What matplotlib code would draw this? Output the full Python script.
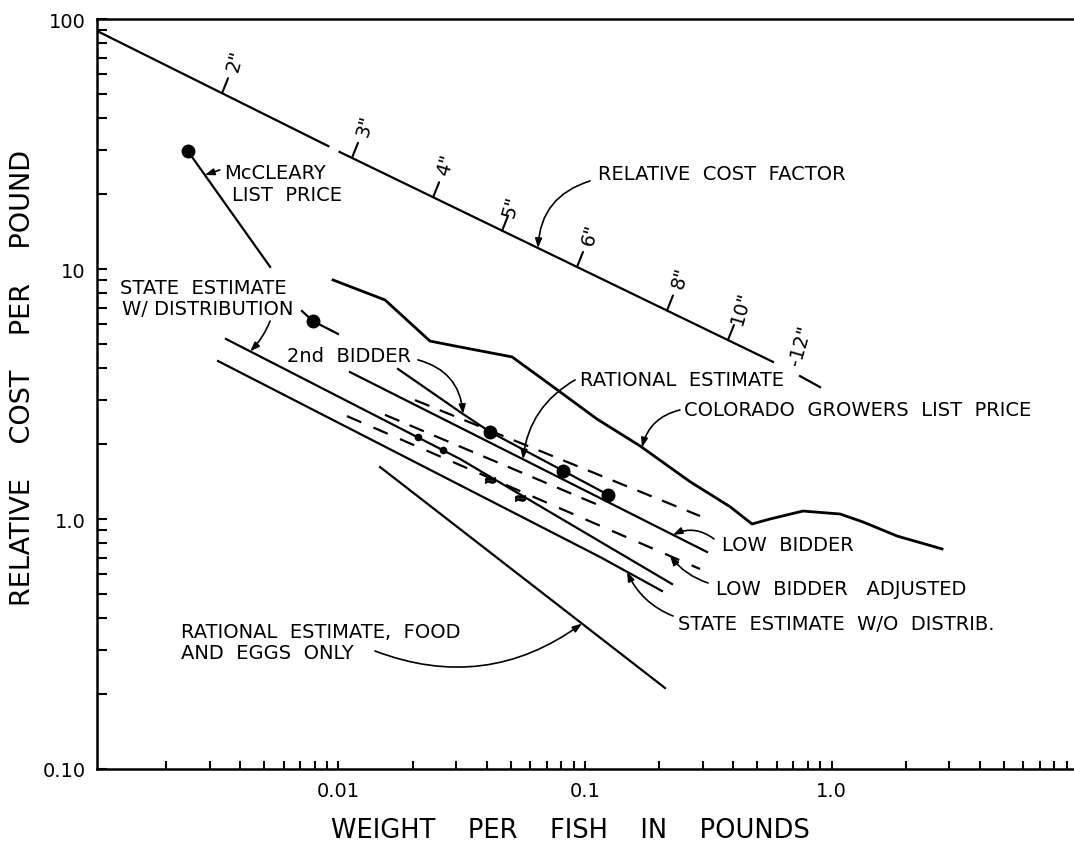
import numpy as np
import matplotlib
matplotlib.use("Agg")
import matplotlib.pyplot as plt
from matplotlib.ticker import FixedLocator, LogLocator, NullFormatter

nan = np.nan

# relative cost factor (fish length scale), gaps where the line is broken
rcf_x = [0.00105, 0.0091, nan, 0.0101, 0.579, nan, 0.745, 0.898]
rcf_y = [89.5, 31.0, nan, 29.4, 4.25, nan, 3.73, 3.37]
length_labels = ['2"', '3"', '4"', '5"', '6"', '8"', '10"', '-12"']
length_x = [0.00337, 0.01134, 0.0242, 0.0461, 0.0928, 0.215, 0.380, 0.679]

# McCleary list price
mc_x = [0.00245, 0.00528, nan, 0.00711, 0.00788, 0.00995, nan, 0.01744, 0.0320, 0.0412, 0.0814, 0.124]
mc_y = [29.6, 10.2, nan, 6.79, 6.19, 5.50, nan, 3.98, 2.63, 2.23, 1.56, 1.25]
mc_dot_x = [0.00245, 0.00788, 0.0412, 0.0814, 0.124]
mc_dot_y = [29.6, 6.19, 2.23, 1.56, 1.25]

# Colorado growers list price
co_x = [0.0095, 0.01544, 0.0235, 0.0297, 0.0506, 0.0688, 0.1119, 0.1672, 0.2667,
        0.3876, 0.4759, 0.5628, 0.7664, 1.083, 1.342, 1.844, 2.808]
co_y = [9.04, 7.52, 5.15, 4.92, 4.45, 3.57, 2.51, 1.96, 1.41,
        1.12, 0.955, 1.0, 1.076, 1.047, 0.973, 0.855, 0.759]

# bidders / estimates
low_x = [0.01113, 0.3126]
low_y = [3.87, 0.738]
rat_x = [0.02043, 0.2927]
rat_y = [2.99, 1.028]
bid2_adj_x = [0.01544, 0.1183]
bid2_adj_y = [2.61, 1.117]
low_adj_x = [0.01082, 0.2927]
low_adj_y = [2.58, 0.631]
st_w_x = [0.003496, 0.03112, 0.2254]
st_w_y = [5.25, 1.738, 0.5495]
st_w_dot_x = [0.02101, 0.02654]
st_w_box_x = [0.04117, 0.05448]
st_wo_x = [0.003245, 0.1151, 0.2053]
st_wo_y = [4.285, 0.7047, 0.5152]
food_x = [0.01474, 0.2111]
food_y = [1.614, 0.2109]


def on_line(xs, ys, x):
    xs = np.asarray(xs, float)
    ys = np.asarray(ys, float)
    ok = ~np.isnan(xs)
    lx = np.log10(xs[ok])
    ly = np.log10(ys[ok])
    return 10 ** np.interp(np.log10(x), lx, ly)


plt.rcParams['font.family'] = 'DejaVu Sans'
fig = plt.figure(figsize=(10.74, 8.54), dpi=100)
ax = fig.add_axes([97 / 1074, 84 / 854, 977 / 1074, 750 / 854])
ax.set_xscale('log')
ax.set_yscale('log')
ax.set_xlim(0.001048, 9.63)
ax.set_ylim(0.1, 100)

k = 'black'
ax.plot(rcf_x, rcf_y, color=k, lw=1.6)
ax.plot(mc_x, mc_y, color=k, lw=1.6)
ax.plot(mc_dot_x, mc_dot_y, 'o', color=k, ms=9)
ax.plot(co_x, co_y, color=k, lw=2.0)
ax.plot(low_x, low_y, color=k, lw=1.6)
ax.plot(rat_x, rat_y, color=k, lw=1.6, dashes=(7, 5))
ax.plot(bid2_adj_x, bid2_adj_y, color=k, lw=1.6, dashes=(7, 5))
ax.plot(low_adj_x, low_adj_y, color=k, lw=1.6, dashes=(7, 6))
ax.plot(st_w_x, st_w_y, color=k, lw=1.6)
ax.plot(st_w_dot_x, on_line(st_w_x, st_w_y, st_w_dot_x), 'o', color=k, ms=4.5)
ax.plot(st_w_box_x, on_line(st_w_x, st_w_y, st_w_box_x) * 0.97, marker=r'$\approx$',
        ls='none', color=k, ms=7)
ax.plot(st_wo_x, st_wo_y, color=k, lw=1.6)
ax.plot(food_x, food_y, color=k, lw=1.6)

# length ticks along the cost factor line
fs = 14
for lab, x in zip(length_labels, length_x):
    y = on_line(rcf_x, rcf_y, x)
    if not lab.startswith('-'):
        ax.annotate('', xy=(x, y), xytext=(6, 15), textcoords='offset pixels',
                    arrowprops=dict(arrowstyle='-', lw=1.5, color=k,
                                    shrinkA=0, shrinkB=0))
        off = (13, 33) if lab != '5"' else (9, 25)
    else:
        off = (10, 26)
    ax.annotate(lab, xy=(x, y), xytext=off, textcoords='offset pixels',
                rotation=74, ha='center', va='center', fontsize=fs)


def label(text, tx, ty, ax_=ax, **kw):
    ax_.text(tx, ty, text, fontsize=fs, ha=kw.pop('ha', 'left'),
             va=kw.pop('va', 'center'), linespacing=1.15, **kw)


def pointer(sx, sy, ex, ey, rad):
    ax.annotate('', xy=(ex, ey), xytext=(sx, sy),
                arrowprops=dict(arrowstyle='-|>,head_length=0.55,head_width=0.2',
                                lw=1.2, color=k, shrinkA=0, shrinkB=0,
                                connectionstyle=f'arc3,rad={rad}'))


label('RELATIVE  COST  FACTOR', 0.1129, 24.0)
pointer(0.1048, 22.5, 0.0645, on_line(rcf_x, rcf_y, 0.0645), 0.35)

label('McCLEARY', 0.00343, 24.4)
label('LIST  PRICE', 0.0037, 19.8)
pointer(0.0033, 24.9, 0.00287, on_line(mc_x[:2], mc_y[:2], 0.00287), 0.0)

label('STATE  ESTIMATE', 0.0013, 8.47)
label('W/ DISTRIBUTION', 0.00132, 6.92)
pointer(0.00528, 6.19, 0.00438, on_line(st_w_x, st_w_y, 0.00438), -0.1)

label('2nd  BIDDER', 0.00618, 4.49)
pointer(0.021, 4.33, 0.032, 2.63, -0.35)

label('RATIONAL  ESTIMATE', 0.0954, 3.6)
pointer(0.0911, 3.6, 0.056, on_line(low_x, low_y, 0.056), 0.25)

label('COLORADO  GROWERS  LIST  PRICE', 0.2521, 2.73)
pointer(0.2428, 2.73, 0.1703, on_line(co_x, co_y, 0.1703), 0.3)

label('LOW  BIDDER', 0.3596, 0.794)
pointer(0.3337, 0.832, 0.2275, on_line(low_x, low_y, 0.2275), 0.3)

label('LOW  BIDDER   ADJUSTED', 0.34, 0.525)
pointer(0.3155, 0.5546, 0.2212, on_line(low_adj_x, low_adj_y, 0.2212), -0.15)

label('STATE  ESTIMATE  W/O  DISTRIB.', 0.2384, 0.3837)
pointer(0.2275, 0.4093, 0.1481, on_line(st_wo_x, st_wo_y, 0.1481), -0.2)

label('RATIONAL  ESTIMATE,  FOOD\nAND  EGGS  ONLY', 0.0023, 0.3873, va='top')
pointer(0.01406, 0.2965, 0.0972, on_line(food_x, food_y, 0.0972), 0.27)

# axes styling
ax.spines['right'].set_visible(False)
for s in ('left', 'bottom', 'top'):
    ax.spines[s].set_linewidth(1.8)

ax.xaxis.set_major_locator(FixedLocator([0.01, 0.1, 1.0]))
ax.set_xticklabels(['0.01', '0.1', '1.0'])
ax.xaxis.set_minor_locator(LogLocator(base=10, subs=np.arange(2, 10)))
ax.xaxis.set_minor_formatter(NullFormatter())
ax.yaxis.set_major_locator(FixedLocator([0.1, 1.0, 10, 100]))
ax.set_yticklabels(['0.10', '1.0', '10', '100'])
ax.yaxis.set_minor_locator(LogLocator(base=10, subs=np.arange(2, 10)))
ax.yaxis.set_minor_formatter(NullFormatter())
ax.tick_params(which='both', direction='in', top=False, right=False,
               width=1.5, labelsize=14)
ax.tick_params(axis='y', which='both', length=7, pad=8)
ax.tick_params(axis='x', which='both', length=5.5, pad=9)

fig.text(23 / 1074, 1 - 378 / 854, 'RELATIVE    COST    PER    POUND', rotation=90,
         ha='center', va='center', fontsize=19.5)
fig.text(570 / 1074, 1 - 831 / 854, 'WEIGHT    PER    FISH    IN    POUNDS',
         ha='center', va='center', fontsize=18.5)

fig.savefig('out.png', dpi=100, facecolor='white')
